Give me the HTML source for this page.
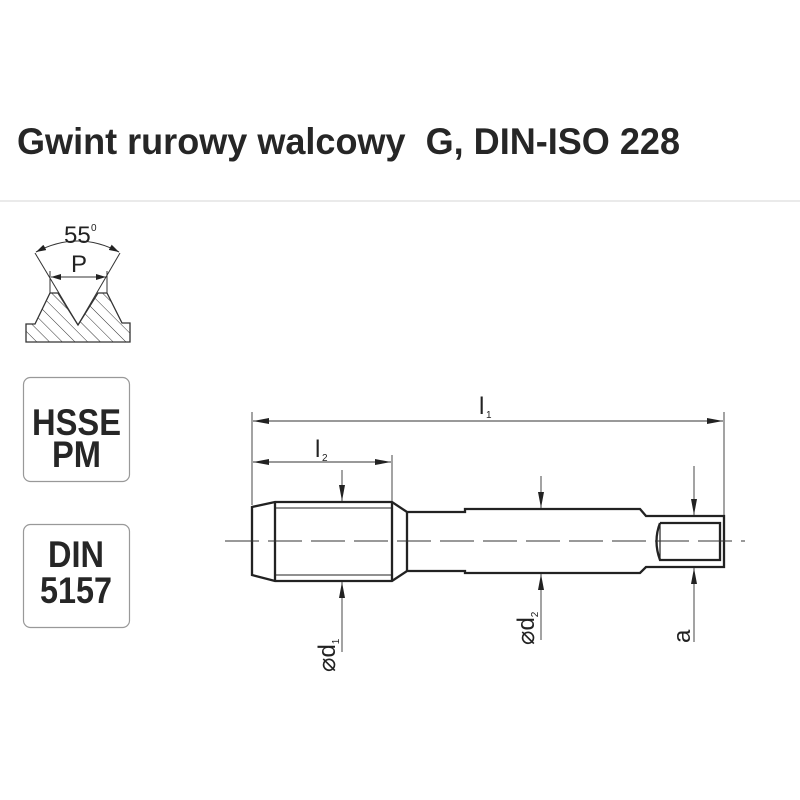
<!DOCTYPE html>
<html><head><meta charset="utf-8"><style>html,body{margin:0;padding:0;background:#fff}svg{display:block}</style></head>
<body>
<svg width="800" height="800" viewBox="0 0 800 800" xmlns="http://www.w3.org/2000/svg" font-family="Liberation Sans, sans-serif">
<defs>
<marker id="ar" viewBox="0 0 10 6" refX="10" refY="3" markerWidth="10" markerHeight="6" markerUnits="userSpaceOnUse" orient="auto-start-reverse"><path d="M0,0 L10,3 L0,6 z" fill="#222"/></marker>
<marker id="ar2" viewBox="0 0 16 6" refX="16" refY="3" markerWidth="16" markerHeight="6" markerUnits="userSpaceOnUse" orient="auto-start-reverse"><path d="M0,0 L16,3 L0,6 z" fill="#222"/></marker>
<pattern id="h" width="9" height="9" patternUnits="userSpaceOnUse" patternTransform="rotate(-45)"><line x1="0" y1="0" x2="0" y2="9" stroke="#333" stroke-width="1"/></pattern>
</defs>
<text x="17" y="154" font-size="37" font-weight="bold" fill="#262626" textLength="663" lengthAdjust="spacingAndGlyphs">Gwint rurowy walcowy&#160; G, DIN-ISO 228</text>
<line x1="0" y1="201" x2="800" y2="201" stroke="#e4e4e4" stroke-width="1.5"/>

<!-- thread profile -->
<path d="M26,342 L26,324 L35,324 L50,293 L58,293 L78,325 L98,293 L107,293 L122,323 L130,323 L130,342 Z" fill="url(#h)" stroke="#333" stroke-width="1.3"/>
<line x1="35" y1="253" x2="78" y2="325" stroke="#333" stroke-width="1"/>
<line x1="120" y1="253" x2="78" y2="325" stroke="#333" stroke-width="1"/>
<line x1="50" y1="271" x2="50" y2="293" stroke="#333" stroke-width="1"/>
<line x1="107" y1="271" x2="107" y2="293" stroke="#333" stroke-width="1"/>
<line x1="51" y1="277" x2="106" y2="277" stroke="#333" stroke-width="1" marker-start="url(#ar)" marker-end="url(#ar)"/>
<path d="M36,252 Q78,230 119,252" fill="none" stroke="#333" stroke-width="1" marker-start="url(#ar)" marker-end="url(#ar)"/>
<text x="64" y="243" font-size="24" fill="#222">55</text><text x="91" y="231" font-size="10" fill="#222">0</text>
<text x="71" y="272" font-size="24" fill="#222">P</text>

<!-- boxes -->
<rect x="23.5" y="377.5" width="106" height="104" rx="7" fill="none" stroke="#999" stroke-width="1.2"/>
<text x="32" y="435" font-size="37" font-weight="bold" fill="#262626" textLength="89" lengthAdjust="spacingAndGlyphs">HSSE</text>
<text x="52" y="467" font-size="37" font-weight="bold" fill="#262626" textLength="49" lengthAdjust="spacingAndGlyphs">PM</text>
<rect x="23.5" y="524.5" width="106" height="103" rx="7" fill="none" stroke="#999" stroke-width="1.2"/>
<text x="48" y="567" font-size="37" font-weight="bold" fill="#262626" textLength="56" lengthAdjust="spacingAndGlyphs">DIN</text>
<text x="40" y="603" font-size="37" font-weight="bold" fill="#262626" textLength="72" lengthAdjust="spacingAndGlyphs">5157</text>

<!-- tap -->
<g fill="none" stroke="#222" stroke-width="2.3">
<path d="M252,507 L275,502 L392,502 L407,512 L465,512 L465,509 L640,509 L646,516 L724,516 L724,567 L646,567 L640,573 L465,573 L465,571 L407,571 L392,581 L275,581 L252,575 Z"/>
<line x1="275" y1="502" x2="275" y2="581"/>
<line x1="392" y1="502" x2="392" y2="581"/>
<line x1="407" y1="512" x2="407" y2="571"/>
<path d="M660,523 L720,523 L720,560 L660,560 Q653,541 660,523"/>
<line x1="660" y1="523" x2="660" y2="560" stroke-width="1.2"/>
</g>
<line x1="275" y1="508" x2="392" y2="508" stroke="#222" stroke-width="1"/>
<line x1="275" y1="575" x2="392" y2="575" stroke="#222" stroke-width="1"/>
<line x1="225" y1="541" x2="745" y2="541" stroke="#333" stroke-width="0.9" stroke-dasharray="34,9"/>

<!-- dims -->
<g stroke="#333" stroke-width="0.9" fill="none">
<line x1="252" y1="412" x2="252" y2="505"/>
<line x1="724" y1="412" x2="724" y2="515"/>
<line x1="392" y1="455" x2="392" y2="501"/>
<line x1="253" y1="421" x2="723" y2="421" marker-start="url(#ar2)" marker-end="url(#ar2)"/>
<line x1="253" y1="462" x2="391" y2="462" marker-start="url(#ar2)" marker-end="url(#ar2)"/>
<line x1="342" y1="470" x2="342" y2="501" marker-end="url(#ar2)"/>
<line x1="342" y1="652" x2="342" y2="582" marker-end="url(#ar2)"/>
<line x1="541" y1="476" x2="541" y2="508" marker-end="url(#ar2)"/>
<line x1="541" y1="640" x2="541" y2="574" marker-end="url(#ar2)"/>
<line x1="694" y1="466" x2="694" y2="515" marker-end="url(#ar2)"/>
<line x1="694" y1="642" x2="694" y2="568" marker-end="url(#ar2)"/>
</g>
<text x="479" y="414" font-size="24" fill="#222">l</text><text x="486" y="418" font-size="10" fill="#222">1</text>
<text x="315" y="457" font-size="24" fill="#222">l</text><text x="322" y="461" font-size="10" fill="#222">2</text>
<text transform="translate(335,672) rotate(-90)" font-size="24" fill="#222">⌀d<tspan font-size="10" dy="4">1</tspan></text>
<text transform="translate(534,645) rotate(-90)" font-size="24" fill="#222">⌀d<tspan font-size="10" dy="4">2</tspan></text>
<text transform="translate(690,643) rotate(-90)" font-size="24" fill="#222">a</text>
</svg>
</body></html>
